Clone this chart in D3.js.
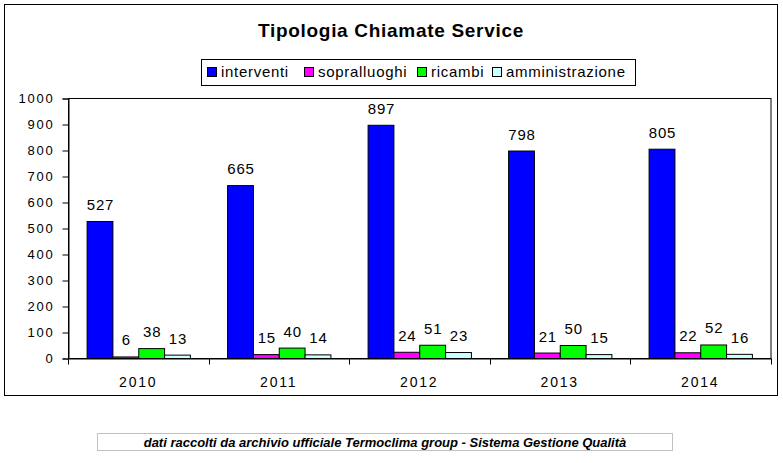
<!DOCTYPE html>
<html>
<head>
<meta charset="utf-8">
<script src="https://cdn.jsdelivr.net/npm/d3@7"></script>
<style>
  body { margin: 0; background: #fff; }
  svg { font-family: Arial, "Liberation Sans", sans-serif; }
</style>
</head>
<body>
<svg id="chart" width="783" height="463"></svg>
<script>
// data
var years = ['2010', '2011', '2012', '2013', '2014'];
var seriesNames = ['interventi', 'sopralluoghi', 'ricambi', 'amministrazione'];
var interventi = [527, 665, 897, 798, 805];
var sopralluoghi = [6, 15, 24, 21, 22];
var ricambi = [38, 40, 51, 50, 52];
var amministrazione = [13, 14, 23, 15, 16];
var yTicks = [0, 100, 200, 300, 400, 500, 600, 700, 800, 900, 1000];

var colors = ['#0000ff', '#ff00ff', '#00ff00', '#ccffff'];
var values = [interventi, sopralluoghi, ricambi, amministrazione];

var svg = d3.select('#chart');

// outer chart border
svg.append('rect')
   .attr('x', 4.5).attr('y', 4.5)
   .attr('width', 773).attr('height', 391)
   .attr('fill', '#fff').attr('stroke', '#000').attr('stroke-width', 1);

// title
svg.append('text')
   .attr('x', 391).attr('y', 37)
   .attr('text-anchor', 'middle')
   .style('font-size', '19px').style('font-weight', 'bold')
   .style('letter-spacing', '0.7px')
   .text('Tipologia Chiamate Service');

// legend
var legendX = [207, 304, 417, 492];
svg.append('rect')
   .attr('x', 201.5).attr('y', 59.5)
   .attr('width', 434).attr('height', 26)
   .attr('fill', '#fff').attr('stroke', '#000');

var legend = svg.selectAll('g.leg').data(seriesNames).enter()
   .append('g').attr('class', 'leg')
   .attr('transform', function(d, i) { return 'translate(' + legendX[i] + ',0)'; });
legend.append('rect')
   .attr('x', 0.5).attr('y', 67.5).attr('width', 9).attr('height', 9)
   .attr('fill', function(d, i) { return colors[i]; })
   .attr('stroke', '#000');
legend.append('text')
   .attr('x', 14).attr('y', 77)
   .style('font-size', '15px').style('letter-spacing', '0.7px')
   .text(function(d) { return d; });

// plot area
var plotLeft = 68, plotRight = 770.5, plotTop = 98, plotBottom = 358;

var x0 = d3.scaleBand().domain(years).range([plotLeft, plotRight]).paddingInner(0).paddingOuter(0);
var x1 = d3.scaleBand().domain(d3.range(4)).range([0, x0.bandwidth()]).paddingOuter(0.72).paddingInner(0);
var y = d3.scaleLinear().domain([0, 1000]).range([plotBottom, plotTop]);

svg.append('rect')
   .attr('x', plotLeft + 0.5).attr('y', plotTop + 0.5)
   .attr('width', plotRight - plotLeft).attr('height', plotBottom - plotTop)
   .attr('fill', '#fff').attr('stroke', '#000');

// bars
var groups = svg.selectAll('g.year').data(years).enter()
   .append('g').attr('class', 'year')
   .attr('transform', function(d) { return 'translate(' + x0(d) + ',0)'; });

groups.selectAll('rect')
   .data(function(d, j) { return values.map(function(v, i) { return {s: i, v: v[j]}; }); })
   .enter().append('rect')
   .attr('x', function(d) { return x1(d.s) + 0.5; })
   .attr('y', function(d) { return y(d.v) + 0.5; })
   .attr('width', x1.bandwidth())
   .attr('height', function(d) { return plotBottom - y(d.v); })
   .attr('fill', function(d) { return colors[d.s]; })
   .attr('stroke', '#000');

groups.selectAll('text.lab')
   .data(function(d, j) { return values.map(function(v, i) { return {s: i, v: v[j]}; }); })
   .enter().append('text').attr('class', 'lab')
   .attr('x', function(d) { return x1(d.s) + x1.bandwidth() / 2 + 1; })
   .attr('y', function(d) { return y(d.v) - 11; })
   .attr('text-anchor', 'middle')
   .style('font-size', '15px').style('letter-spacing', '0.8px')
   .text(function(d) { return d.v; });

// y axis
var yAxis = d3.axisLeft(y).tickValues(yTicks).tickFormat(d3.format('d')).tickSize(6).tickPadding(8);
var yg = svg.append('g').attr('transform', 'translate(' + (plotLeft + 0.5) + ',0.5)').call(yAxis);
yg.select('.domain').attr('stroke', '#000');
yg.selectAll('.tick line').attr('stroke', '#000');
yg.selectAll('.tick text')
   .attr('fill', '#000')
   .style('font-size', '13px').style('letter-spacing', '1.8px')
   .style('font-family', 'Arial, "Liberation Sans", sans-serif');

// x axis with ticks at the category boundaries
var xAxis = d3.axisBottom(x0).tickSize(0).tickPadding(19).tickSizeOuter(0);
var xg = svg.append('g').attr('transform', 'translate(0,' + (plotBottom + 0.5) + ')').call(xAxis);
xg.select('.domain').attr('stroke', '#000');
xg.selectAll('.tick text')
   .attr('fill', '#000')
   .style('font-size', '14px').style('letter-spacing', '1.8px')
   .style('font-family', 'Arial, "Liberation Sans", sans-serif');
xg.selectAll('line.sep')
   .data(years.map(function(d) { return x0(d); }).concat([plotRight]))
   .enter().append('line').attr('class', 'sep')
   .attr('x1', function(d) { return Math.round(d) + 0.5; })
   .attr('x2', function(d) { return Math.round(d) + 0.5; })
   .attr('y1', 0).attr('y2', 6)
   .attr('stroke', '#000');

// footer note
svg.append('rect')
   .attr('x', 97.5).attr('y', 433.5)
   .attr('width', 575).attr('height', 17)
   .attr('fill', '#fff').attr('stroke', '#c0c0c0');
svg.append('text')
   .attr('x', 385).attr('y', 446.5)
   .attr('text-anchor', 'middle')
   .style('font-size', '13px').style('font-weight', 'bold').style('font-style', 'italic')
   .text('dati raccolti da archivio ufficiale Termoclima group - Sistema Gestione Qualità');
</script>
</body>
</html>
